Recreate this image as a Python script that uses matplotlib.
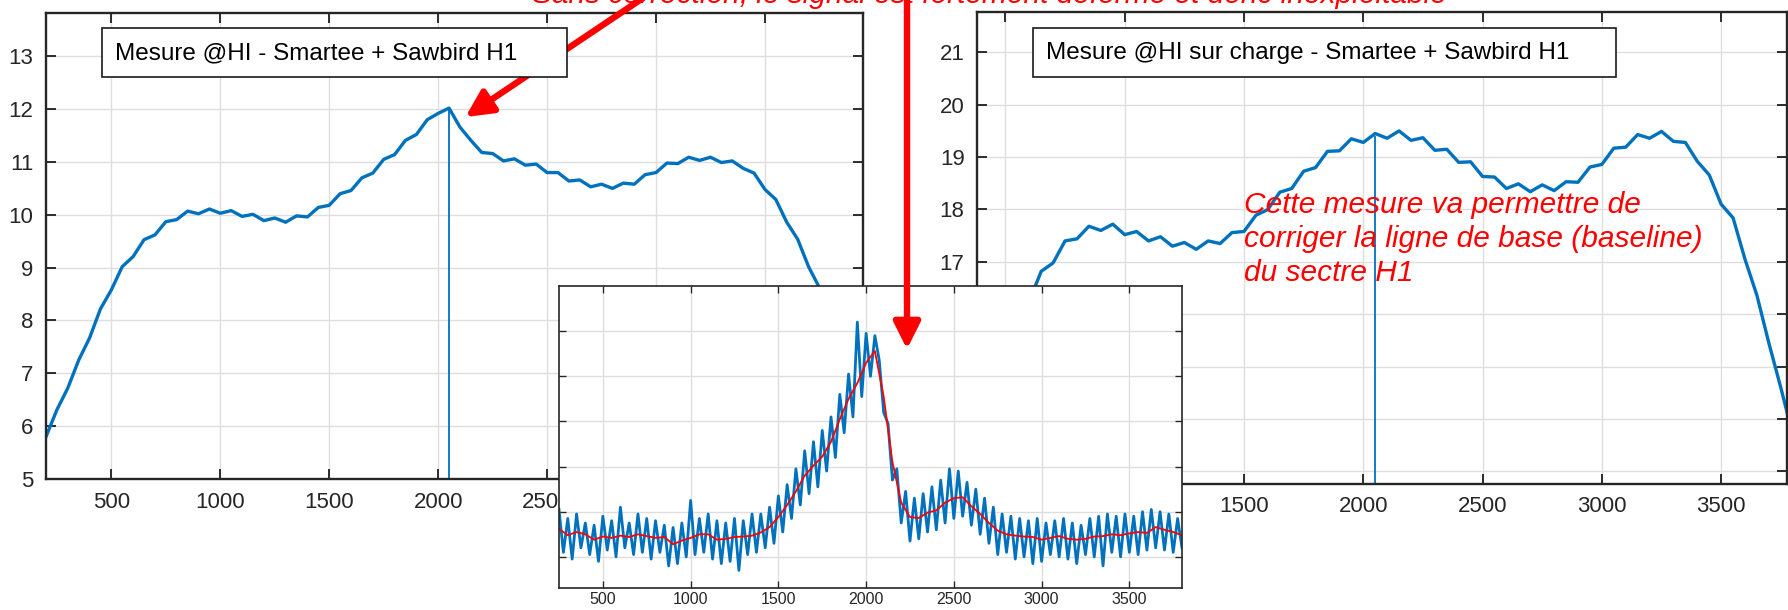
import numpy as np
import matplotlib
matplotlib.use("Agg")
import matplotlib.pyplot as plt
from matplotlib.patches import Rectangle
from matplotlib.patches import ArrowStyle

plt.rcParams['font.family'] = ['Liberation Sans', 'DejaVu Sans']

W, H, DPI = 1788, 610, 100
BLUE = '#0072BD'
INK = '#262626'

# measurement @HI, bins 200..3950 (step 50)
left_x = np.arange(200, 3951, 50)
left_y = [5.80, 6.31, 6.72, 7.25, 7.67, 8.22, 8.58, 9.02, 9.21, 9.53, 9.62, 9.87, 9.91, 10.07, 10.02, 10.11,
          10.03, 10.08, 9.97, 10.01, 9.89, 9.94, 9.86, 9.98, 9.96, 10.14, 10.18, 10.40, 10.46, 10.70, 10.79, 11.05,
          11.14, 11.41, 11.52, 11.80,
          11.92, 12.02, 11.66, 11.41, 11.18, 11.16, 11.02, 11.06, 10.94, 10.96, 10.80, 10.80, 10.64, 10.66, 10.53, 10.58,
          10.50, 10.60, 10.58, 10.76,
          10.80, 10.98, 10.97, 11.09, 11.03, 11.09, 10.99, 11.02, 10.88, 10.79, 10.48, 10.29, 9.86, 9.54, 9.02, 8.62,
          8.06, 7.64, 7.06, 6.64]

# measurement @HI on load, bins 400..3800 (step 50)
right_x = np.arange(400, 3801, 50)
right_y = [13.30, 14.05, 14.75, 15.65, 16.25, 16.82, 16.98, 17.40, 17.44, 17.68, 17.60, 17.72,
           17.52, 17.58, 17.40, 17.48, 17.30, 17.37, 17.24, 17.40, 17.35, 17.56, 17.58, 17.89, 18.00, 18.33, 18.40,
           18.73, 18.80, 19.11, 19.12, 19.35,
           19.28, 19.45, 19.36, 19.50, 19.32, 19.37, 19.13, 19.15, 18.90, 18.91, 18.63, 18.62, 18.40, 18.49, 18.34,
           18.47, 18.36, 18.53, 18.52, 18.81,
           18.86, 19.17, 19.19, 19.43, 19.36, 19.49, 19.30, 19.28, 18.92, 18.66, 18.10, 17.84, 17.05, 16.36, 15.45,
           14.60, 13.70]

# the centre bin drops out in both spectra
dropout_bin = 2048
dropout_level = 0.0
left_at_dropout = 12.0
right_at_dropout = 19.38

# ratio spectrum (raw) from bin 250, step 25
ratio_raw = [1.05, 0.10, 0.85, -0.05, 0.95, 0.20, 0.75, 0.05,
             0.70, -0.10, 0.90, 0.15, 0.80, 0.00, 1.10, 0.20,
             0.75, 0.05, 0.95, 0.10, 0.85, -0.05, 0.80, 0.10,
             0.70, -0.20, 0.65, -0.15, 0.75, 0.00, 1.25, 0.05,
             0.85, 0.10, 0.95, -0.05, 0.80, -0.15, 0.75, -0.10,
             0.85, -0.30, 0.80, 0.05, 0.95, 0.10, 0.95, 0.20,
             1.10, 0.30, 1.35, 0.55, 1.60, 0.85, 1.95, 1.15,
             2.35, 1.40, 2.55, 1.55, 2.80, 1.90, 3.10, 2.20,
             3.60, 2.75, 4.05, 3.10, 5.20, 3.55, 4.95, 4.00,
             4.90, 4.35, 3.20, 2.95, 1.70, 1.95, 0.75, 1.45,
             0.35, 1.30, 0.40, 1.40, 0.55, 1.55, 0.60, 1.70,
             0.75, 1.95, 0.85, 1.90, 0.90, 1.65, 0.70, 1.50,
             0.50, 1.30, 0.30, 1.10, 0.05, 0.95, 0.10, 0.90,
             -0.05, 0.85, 0.00, 0.80, -0.15, 0.85, -0.10, 0.75,
             0.05, 0.80, 0.00, 0.85, -0.05, 0.75, -0.15, 0.70,
             0.05, 0.85, 0.00, 0.90, -0.20, 0.95, 0.10, 0.90,
             0.00, 0.95, 0.10, 0.90, 0.05, 1.00, 0.15, 1.05,
             0.20, 1.00, 0.15, 0.95, 0.10, 0.85, 0.20]
ratio_x = 250 + 25 * np.arange(len(ratio_raw))

# smoothed ratio, bins 250..3800 step 50
smooth_x = np.arange(250, 3801, 50)
smooth_y = [0.62, 0.48, 0.55, 0.50, 0.38, 0.45, 0.42, 0.47, 0.44, 0.50, 0.46, 0.42, 0.44, 0.28, 0.36, 0.42,
            0.50, 0.50, 0.38, 0.40, 0.44, 0.45, 0.47, 0.54, 0.66, 0.88, 1.15, 1.45, 1.80, 2.02, 2.22, 2.55,
            3.05, 3.50, 3.85, 4.30, 4.56,
            3.55, 2.10, 1.20, 0.88, 0.86, 0.98, 1.03, 1.20, 1.30, 1.32, 1.12, 0.95, 0.75, 0.58, 0.50, 0.47,
            0.45, 0.44, 0.38, 0.42, 0.46, 0.40, 0.38, 0.40, 0.45, 0.46, 0.50, 0.48, 0.52, 0.55, 0.53, 0.66,
            0.60, 0.55, 0.48]

left_title = "Mesure @HI - Smartee + Sawbird H1"
right_title = "Mesure @HI sur charge - Smartee + Sawbird H1"
top_note = "Sans correction, le signal est fortement déformé et donc inexploitable"
side_note = "Cette mesure va permettre de\ncorriger la ligne de base (baseline)\ndu sectre H1"


def fx(px):
    return px / W


def fy(py):
    return 1 - py / H


def add_px_axes(fig, x0, y0, x1, y1):
    return fig.add_axes([fx(x0), fy(y1), (x1 - x0) / W, (y1 - y0) / H])


def style(ax, size, tick_len, lw, pad_x, pad_y):
    ax.set_facecolor('white')
    for s in ax.spines.values():
        s.set_color(INK)
        s.set_linewidth(lw)
    ax.tick_params(direction='in', length=tick_len, width=lw * 0.8, colors=INK,
                   labelsize=size, top=True, right=True)
    ax.tick_params(axis='x', pad=pad_x)
    ax.tick_params(axis='y', pad=pad_y)
    ax.grid(True, color='#dedede', lw=1)
    ax.set_axisbelow(True)


fig = plt.figure(figsize=(W / DPI, H / DPI), dpi=DPI)

# left spectrum
ax1 = add_px_axes(fig, 46, 13, 863, 479)
style(ax1, 16, 7, 1.7, 9, 9)
ax1.plot(left_x, left_y, color=BLUE, lw=2.4)
ax1.plot([dropout_bin, dropout_bin], [dropout_level, left_at_dropout], color=BLUE, lw=1.3)
ax1.set_xlim(200, 3950)
ax1.set_ylim(5, 13.82)
ax1.set_xticks(np.arange(500, 3501, 500))
ax1.set_yticks(np.arange(5, 14, 1))
ax1.set_zorder(1)

ax1.add_patch(Rectangle((fx(102), fy(77)), (567 - 102) / W, (77 - 28) / H, transform=fig.transFigure,
                        fc='white', ec='#1a1a1a', lw=1.2, zorder=5))
ax1.text(fx(115), fy(53), left_title, transform=fig.transFigure, fontsize=17.5, color='black',
         va='center', ha='left', zorder=6)

# right spectrum
ax2 = add_px_axes(fig, 977, 12, 1787, 484)
style(ax2, 16, 7, 1.7, 9, 9)
ax2.plot(right_x, right_y, color=BLUE, lw=2.4)
ax2.plot([dropout_bin, dropout_bin], [dropout_level, right_at_dropout], color=BLUE, lw=1.3)
ax2.set_xlim(381, 3776)
ax2.set_ylim(12.76, 21.77)
ax2.set_xticks(np.arange(500, 3501, 500))
ax2.set_yticks(np.arange(13, 22, 1))
ax2.set_zorder(2)

ax2.add_patch(Rectangle((fx(1033), fy(77)), (1616 - 1033) / W, (77 - 28) / H, transform=fig.transFigure,
                        fc='white', ec='#1a1a1a', lw=1.2, zorder=5))
ax2.text(fx(1046), fy(53), right_title, transform=fig.transFigure, fontsize=17.5, color='black',
         va='center', ha='left', zorder=6)

# ratio spectrum with its running mean
ax3 = add_px_axes(fig, 559, 286, 1182, 588)
style(ax3, 11.5, 5, 1.2, 3, 4)
ax3.plot(ratio_x, ratio_raw, color=BLUE, lw=2.0)
ax3.plot(smooth_x, smooth_y, color='red', lw=1.3)
ax3.set_xlim(250, 3800)
ax3.set_ylim(-0.69, 6.0)
ax3.set_xticks(np.arange(500, 3501, 500))
ax3.set_yticks(np.arange(0, 6, 1))
ax3.set_yticklabels([])
ax3.set_zorder(3)

# red arrows
head = ArrowStyle('-|>', head_length=1.0, head_width=0.5)
ax1.annotate('', xy=(2125, 11.85), xytext=(fx(649), fy(-6)), textcoords='figure fraction',
             arrowprops=dict(arrowstyle=head, color='red', lw=4.6, mutation_scale=16,
                             shrinkA=0, shrinkB=0), annotation_clip=False)
ax3.annotate('', xy=(2233, 4.6), xytext=(2233, fy(-6)), textcoords=('data', 'figure fraction'),
             arrowprops=dict(arrowstyle=head, color='red', lw=4.6, mutation_scale=16,
                             shrinkA=0, shrinkB=0), annotation_clip=False)

# red comments
fig.text(fx(532), fy(3), top_note, fontsize=21.5, style='italic', color='red', va='baseline',
         ha='left', zorder=10)
fig.text(fx(1244), fy(281), side_note, fontsize=21.5, style='italic', color='red', va='baseline',
         ha='left', linespacing=1.27, zorder=10)

fig.savefig('out.png', dpi=DPI)
